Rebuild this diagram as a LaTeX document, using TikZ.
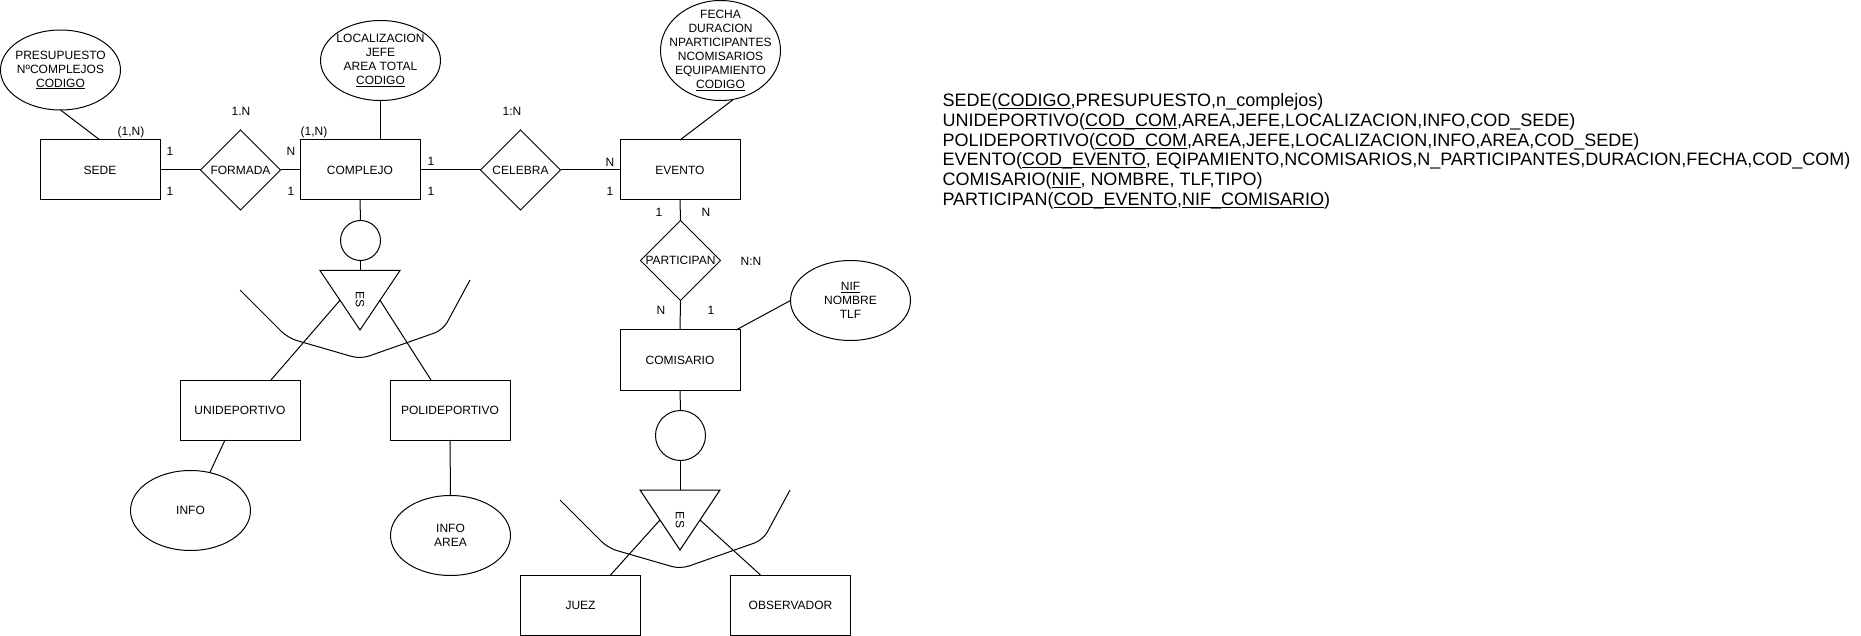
\documentclass[tikz,border=0pt]{standalone}
\usepackage{fontspec}
\setmainfont{Liberation Sans}
\usetikzlibrary{shapes.geometric,calc}

% underline for key attributes, sitting just under the baseline
\newcommand\keyul[1]{\setbox0\hbox{#1}\rlap{\rule[-0.15em]{\wd0}{0.06em}}\box0}

\begin{document}
\begin{tikzpicture}[x=1pt,y=-1pt,line width=1pt,
  base/.style={font=\fontsize{12}{14}\selectfont, inner sep=0pt, outer sep=0pt, text=black},
  entity/.style={base, draw, rectangle, minimum width=120, minimum height=60},
  relation/.style={base, draw, diamond, minimum width=80, minimum height=80},
  attr/.style={base, draw, ellipse},
  txt/.style={base, align=center},
  card/.style={base},
  isa/.style={draw, circle, inner sep=0pt, outer sep=0pt},
  reltxt/.style={font=\fontsize{18}{20}\selectfont, inner sep=0pt, anchor=base west},
  spread/.style={rounded corners=9pt}
]
\fill[white] (0,0) rectangle (1861,636);
\useasboundingbox (0,0) rectangle (1861,636);

% ---------- entities ----------
\node[entity] (sede) at (100,170) {SEDE};
\node[entity] (complejo) at (360,170) {COMPLEJO};
\node[entity] (evento) at (680,170) {EVENTO};
\node[entity] (uni) at (240,410) {UNIDEPORTIVO};
\node[entity] (poli) at (450,410) {POLIDEPORTIVO};
\node[entity] (comisario) at (680,360) {COMISARIO};
\node[entity] (juez) at (580.5,605) {JUEZ};
\node[entity] (observador) at (790.5,605) {OBSERVADOR};

% ---------- relationships ----------
\node[relation] (formada) at (240.5,170) {};
\node[txt] (formadatxt) at (formada.center) {FORMADA};
\node[relation] (celebra) at (520.5,170) {};
\node[txt] (celebratxt) at (celebra.center) {CELEBRA};
\node[relation] (participan) at (680.5,260.5) {};
\node[txt] (participantxt) at (participan.center) {PARTICIPAN};

% ---------- attributes ----------
\node[attr, minimum width=120, minimum height=80] (sedeattr) at (60.5,70) {};
\node[txt] (sedeattrtxt) at (sedeattr.center) {PRESUPUESTO\\NºCOMPLEJOS\\\keyul{CODIGO}};
\node[attr, minimum width=120, minimum height=80] (complejoattr) at (380.5,60.5) {};
\node[txt] (complejoattrtxt) at (complejoattr.center) {LOCALIZACION\\JEFE\\AREA TOTAL\\\keyul{CODIGO}};
\node[attr, minimum width=120, minimum height=100] (eventoattr) at (720.5,50.5) {};
\node[txt] (eventoattrtxt) at (eventoattr.center) {FECHA\\DURACION\\NPARTICIPANTES\\NCOMISARIOS\\EQUIPAMIENTO\\\keyul{CODIGO}};
\node[attr, minimum width=120, minimum height=80] (info) at (190.5,510.5) {};
\node[txt] (infotxt) at (info.center) {INFO};
\node[attr, minimum width=120, minimum height=80] (infoarea) at (450.5,535.5) {};
\node[txt] (infoareatxt) at (infoarea.center) {INFO\\AREA};
\node[attr, minimum width=120, minimum height=80] (nifattr) at (850.5,300.5) {};
\node[txt] (nifattrtxt) at (nifattr.center) {\keyul{NIF}\\NOMBRE\\TLF};

% ---------- specialisation circles ----------
\node[isa, minimum size=40] (isa1) at (360.5,240.5) {};
\node[isa, minimum size=50] (isa2) at (680.5,435.5) {};

% ---------- ES triangles ----------
\coordinate (t1l) at (320,270.5);
\coordinate (t1r) at (400,270.5);
\coordinate (t1b) at (360,330);
\coordinate (t1top) at (360.5,270.5);
\coordinate (t1lm) at ($(t1l)!0.5!(t1b)$);
\coordinate (t1rm) at ($(t1r)!0.5!(t1b)$);
\draw (t1l) -- (t1r) -- (t1b) -- cycle;
\node[base, rotate=-90] (es1) at (360,300) {ES};

\coordinate (t2l) at (640,490);
\coordinate (t2r) at (720,490);
\coordinate (t2b) at (680,550);
\coordinate (t2top) at (680.5,490);
\coordinate (t2lm) at ($(t2l)!0.5!(t2b)$);
\coordinate (t2rm) at ($(t2r)!0.5!(t2b)$);
\draw (t2l) -- (t2r) -- (t2b) -- cycle;
\node[base, rotate=-90] (es2) at (680,520) {ES};

% ---------- spreading strokes under the triangles ----------
\draw[spread] (240,290) -- (288,338) -- (360.5,359) -- (443,330) -- (470,280);
\draw[spread] (560,500) -- (608,548) -- (680.5,569) -- (763,540) -- (790,490);

% ---------- connectors ----------
\draw (sede.east) -- (formada.west);
\draw (formada.east) -- (complejo.west);
\draw (complejo.east) -- (celebra.west);
\draw (celebra.east) -- (evento.west);
\draw (evento.south) -- (participan.north);
\draw (participan.south) -- (comisario.north);
\draw (complejo.south) -- (isa1.north);
\draw (isa1.south) -- (t1top);
\draw (t1lm) -- ($(uni.north)+(31,0)$);
\draw (t1rm) -- ($(poli.north)+(-19,0)$);
\draw (comisario.south) -- (isa2.north);
\draw (isa2.south) -- (t2top);
\draw (t2lm) -- ($(juez.north)+(30,0)$);
\draw (t2rm) -- ($(observador.north)+(-30,0)$);

\draw (sedeattr.south) -- (sede.north);
\draw (complejoattr.south) -- (complejoattr.south |- complejo.north);
\draw (eventoattr.-75) -- (evento.north);
\draw ($(uni.south)+(-15,0)$) -- (info.63);
\draw (poli.south) -- (infoarea.north);
\draw ($(comisario.north east)+(-4,0)$) -- (nifattr.west);

% ---------- cardinalities ----------
\node[card] (c1) at (131,132) {(1,N)};
\node[card] (c2) at (170,151) {1};
\node[card] (c3) at (170,191) {1};
\node[card] (c4) at (241,111) {1.N};
\node[card] (c5) at (291,151) {N};
\node[card] (c6) at (291,191) {1};
\node[card] (c7) at (314,132) {(1,N)};
\node[card] (c8) at (431,161) {1};
\node[card] (c9) at (431,191) {1};
\node[card] (c10) at (512,111) {1:N};
\node[card] (c11) at (610,162) {N};
\node[card] (c12) at (610,191) {1};
\node[card] (c13) at (659,212) {1};
\node[card] (c14) at (706,212) {N};
\node[card] (c15) at (751,261) {N:N};
\node[card] (c16) at (661,310) {N};
\node[card] (c17) at (711,310) {1};

% ---------- relational schema ----------
\node[reltxt] (r1) at (942,106.7) {SEDE(\keyul{CODIGO},PRESUPUESTO,n\_complejos)};
\node[reltxt] (r2) at (942,126.4) {UNIDEPORTIVO(\keyul{COD\_COM},AREA,JEFE,LOCALIZACION,INFO,COD\_SEDE)};
\node[reltxt] (r3) at (942,146.1) {POLIDEPORTIVO(\keyul{COD\_COM},AREA,JEFE,LOCALIZACION,INFO,AREA,COD\_SEDE)};
\node[reltxt] (r4) at (942,165.8) {EVENTO(\keyul{COD\_EVENTO}, EQIPAMIENTO,NCOMISARIOS,N\_PARTICIPANTES,DURACION,FECHA,COD\_COM)};
\node[reltxt] (r5) at (942,185.5) {COMISARIO(\keyul{NIF}, NOMBRE, TLF,TIPO)};
\node[reltxt] (r6) at (942,205.2) {PARTICIPAN(\keyul{COD\_EVENTO},\keyul{NIF\_COMISARIO})};
\end{tikzpicture}
\end{document}
